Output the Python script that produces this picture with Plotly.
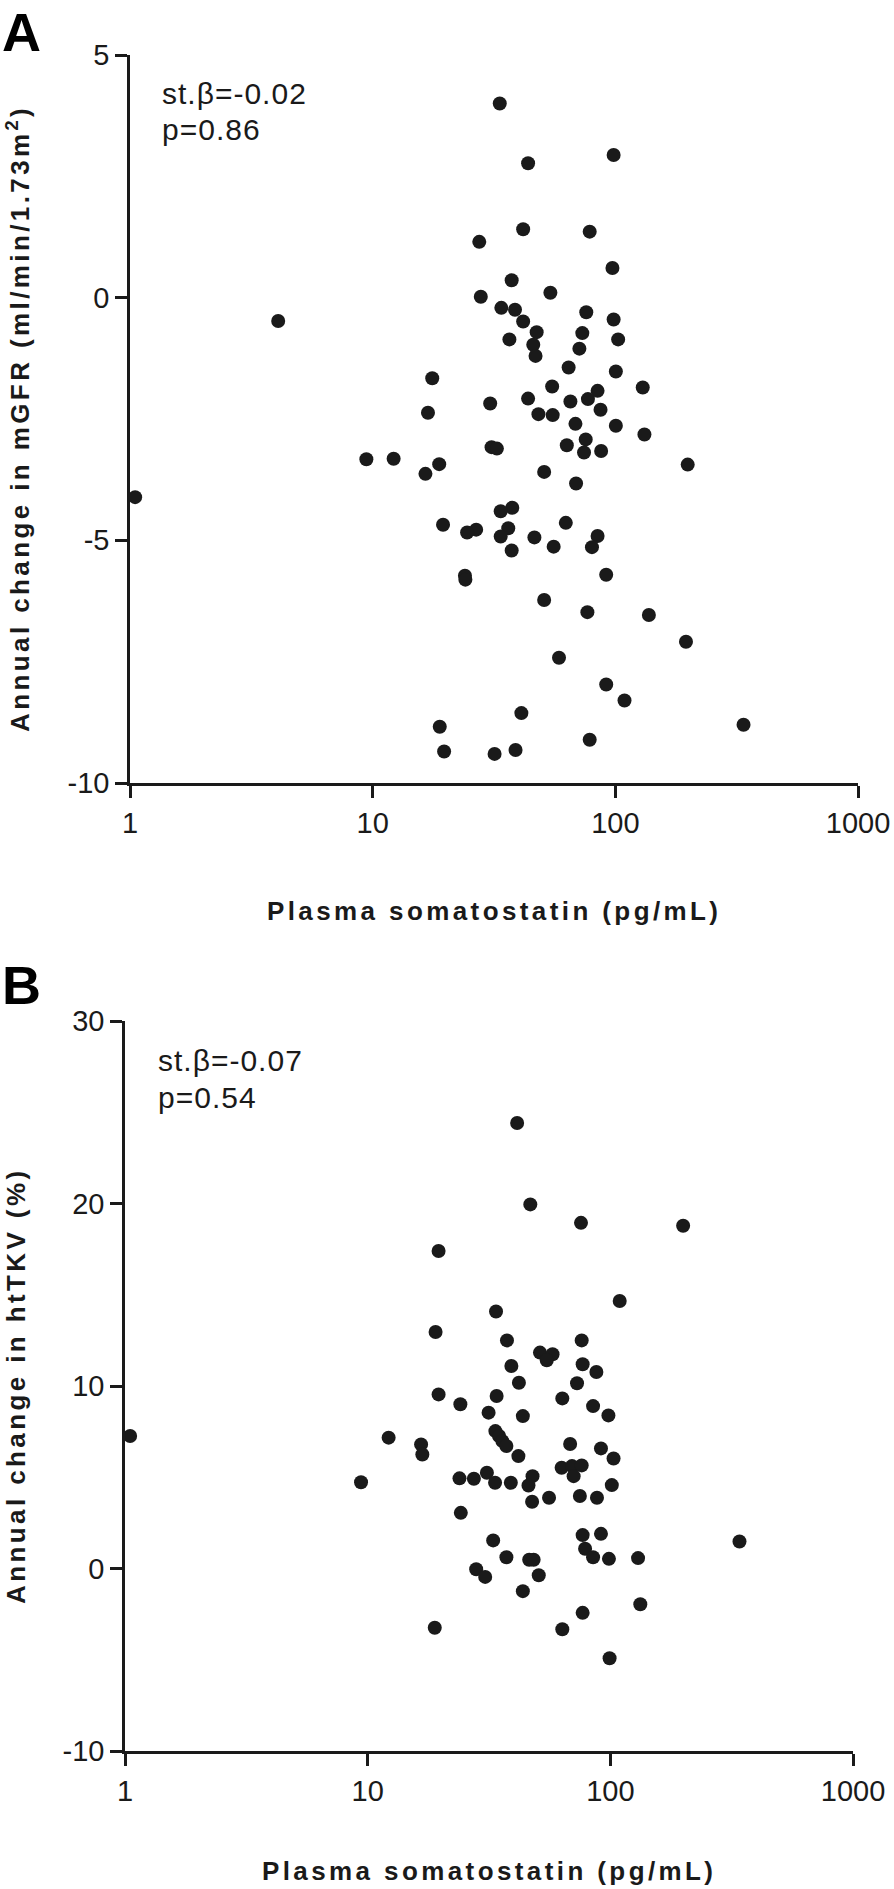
import plotly.graph_objects as go

W, H = 894, 1889

# Panel A: plasma somatostatin (pg/mL) vs annual change in mGFR
a_x = [33.4, 43.7, 98.4, 41.7, 78.4, 27.5, 97.3, 37.4, 54.0, 27.9,
       4.08, 33.9, 38.6, 75.9, 98.4, 41.7, 47.4, 73.1, 36.6, 102.7,
       45.9, 71.1, 46.9, 64.2, 100.5, 17.6, 54.9, 129.7, 84.5, 43.7,
       65.3, 77.1, 30.5, 16.9, 86.9, 48.2, 55.2, 68.5, 100.5, 131.8,
       75.5, 30.9, 32.5, 63.1, 74.3, 87.4, 9.42, 12.2, 18.8, 198.7,
       16.5, 50.9, 68.9, 1.05, 37.6, 33.7, 62.5, 19.5, 26.7, 24.5,
       36.2, 33.7, 46.4, 84.5, 55.7, 80.1, 37.4, 24.0, 24.1, 91.7,
       50.9, 76.7, 137.5, 195.5, 58.6, 91.7, 109.1, 41.0, 18.9, 337.5,
       78.4, 19.7, 31.8, 38.8]
a_y = [4.0, 2.77, 2.94, 1.41, 1.36, 1.15, 0.61, 0.36, 0.10, 0.02,
       -0.48, -0.21, -0.25, -0.30, -0.45, -0.49, -0.71, -0.73, -0.86, -0.86,
       -0.97, -1.05, -1.20, -1.44, -1.52, -1.66, -1.83, -1.85, -1.92, -2.08,
       -2.14, -2.09, -2.18, -2.37, -2.31, -2.40, -2.42, -2.60, -2.64, -2.82,
       -2.92, -3.08, -3.11, -3.04, -3.19, -3.16, -3.33, -3.32, -3.43, -3.44,
       -3.63, -3.59, -3.83, -4.11, -4.33, -4.40, -4.64, -4.68, -4.78, -4.84,
       -4.75, -4.92, -4.94, -4.91, -5.13, -5.14, -5.21, -5.73, -5.81, -5.71,
       -6.23, -6.48, -6.54, -7.09, -7.42, -7.97, -8.30, -8.56, -8.84, -8.80,
       -9.11, -9.35, -9.40, -9.32]

# Panel B: plasma somatostatin (pg/mL) vs annual change in htTKV (%)
b_x = [41.3, 46.8, 75.7, 199.5, 19.6,
       109.3, 33.8, 19.05, 37.5, 76.2, 51.3, 57.8, 54.7, 39.1, 76.9,
       87.6, 42.0, 72.9, 19.6, 34.0, 63.4, 24.1, 84.9, 31.5, 43.6,
       98.2, 1.05, 12.2, 33.6, 34.8, 35.9, 37.3, 16.6, 16.8, 68.3,
       91.5, 103.1, 41.8, 63.0, 69.5, 76.2, 70.6, 31.0, 47.8, 9.39,
       23.9, 27.4, 33.5, 38.9, 46.0, 101.4, 74.9, 55.9, 88.1, 47.6,
       24.2, 76.9, 91.5, 32.9, 340.6, 78.7, 37.3, 46.3, 48.3, 84.9,
       98.7, 130.1, 28.0, 30.5, 50.7, 43.6,
       132.9, 76.9, 18.9, 63.4, 99.3]
b_y = [24.41, 19.95, 18.94, 18.78, 17.40,
       14.66, 14.08, 12.96, 12.50, 12.50, 11.83, 11.74, 11.41, 11.10, 11.19,
       10.77, 10.18, 10.15, 9.54, 9.45, 9.32, 9.00, 8.90, 8.54, 8.35,
       8.39, 7.26, 7.17, 7.53, 7.26, 6.98, 6.71, 6.80, 6.25, 6.82,
       6.58, 6.03, 6.16, 5.52, 5.61, 5.65, 5.06, 5.25, 5.06, 4.73,
       4.94, 4.92, 4.70, 4.70, 4.55, 4.57, 3.97, 3.88, 3.88, 3.66,
       3.05, 1.83, 1.90, 1.54, 1.48, 1.08, 0.62, 0.48, 0.48, 0.62,
       0.53, 0.57, -0.04, -0.46, -0.37, -1.24,
       -1.96, -2.43, -3.25, -3.33, -4.92]

x_tickvals = [1, 10, 100, 1000]
x_ticktext = ["1", "10", "100", "1000"]
a_yticks = [-10, -5, 0, 5]
a_yticktext = ["-10", "-5", "0", "5"]
b_yticks = [-10, 0, 10, 20, 30]
b_yticktext = ["-10", "0", "10", "20", "30"]

x_title = "Plasma somatostatin (pg/mL)"
a_title = "Annual change in mGFR (ml/min/1.73m<sup>2</sup>)"
b_title = "Annual change in htTKV (%)"
a_stats = ["st.\u03b2=-0.02", "p=0.86"]
b_stats = ["st.\u03b2=-0.07", "p=0.54"]

INK = "#1a1a1a"
FONT = "Liberation Sans, Arial, sans-serif"


def fx(p):
    return p / W


def fy(p):
    return 1 - p / H


fig = go.Figure()
fig.add_trace(go.Scatter(x=a_x, y=a_y, mode="markers", xaxis="x", yaxis="y",
                         marker=dict(size=14, color=INK), cliponaxis=False,
                         hoverinfo="skip"))
fig.add_trace(go.Scatter(x=b_x, y=b_y, mode="markers", xaxis="x2", yaxis="y2",
                         marker=dict(size=14, color=INK), cliponaxis=False,
                         hoverinfo="skip"))

common = dict(showline=True, linecolor=INK, linewidth=2.5, ticks="outside",
              ticklen=12, tickwidth=2.5, tickcolor=INK, showgrid=False,
              zeroline=False, automargin=False,
              tickfont=dict(family=FONT, size=29, color=INK))

fig.update_layout(
    width=W, height=H,
    margin=dict(l=0, r=0, t=0, b=0, pad=0, autoexpand=False),
    plot_bgcolor="white", paper_bgcolor="white", showlegend=False,
    xaxis=dict(type="log", range=[0, 3], domain=[fx(130), fx(858)], anchor="y",
               tickvals=x_tickvals, ticktext=x_ticktext, **common),
    yaxis=dict(range=[-10, 5], domain=[fy(783), fy(55)], anchor="x",
               tickvals=a_yticks, ticktext=a_yticktext, **common),
    xaxis2=dict(type="log", range=[0, 3], domain=[fx(125), fx(853)], anchor="y2",
                tickvals=x_tickvals, ticktext=x_ticktext, **common),
    yaxis2=dict(range=[-10, 30], domain=[fy(1751), fy(1021)], anchor="x2",
                tickvals=b_yticks, ticktext=b_yticktext, **common),
)


def spaced(t, sp):
    return '<span style="letter-spacing:%s">%s</span>' % (sp, t)


anns = []
bold = dict(family=FONT, size=26, color=INK, weight="bold")
anns.append(dict(text=spaced(a_title, "3.4px"), textangle=-90, x=fx(19), y=fy(419),
                 xanchor="center", yanchor="middle", font=bold))
anns.append(dict(text=spaced(b_title, "3.4px"), textangle=-90, x=fx(16), y=fy(1386),
                 xanchor="center", yanchor="middle", font=bold))
anns.append(dict(text=spaced(x_title, "3.4px"), x=fx(494), y=fy(911),
                 xanchor="center", yanchor="middle", font=bold))
anns.append(dict(text=spaced(x_title, "3.4px"), x=fx(489), y=fy(1871),
                 xanchor="center", yanchor="middle", font=bold))
big = dict(family=FONT, size=54, color="black", weight="bold")
anns.append(dict(text="A", x=fx(0), y=fy(0), xanchor="left", yanchor="top", font=big))
anns.append(dict(text="B", x=fx(0), y=fy(953), xanchor="left", yanchor="top", font=big))
stat_font = dict(family=FONT, size=30, color=INK)
for t, yy in zip(a_stats, [94, 130]):
    anns.append(dict(text=spaced(t, "1px"), x=fx(160), y=fy(yy), xanchor="left",
                     yanchor="middle", font=stat_font))
for t, yy in zip(b_stats, [1060, 1097]):
    anns.append(dict(text=spaced(t, "1px"), x=fx(156), y=fy(yy), xanchor="left",
                     yanchor="middle", font=stat_font))

for a in anns:
    a.update(xref="paper", yref="paper", showarrow=False)
fig.update_layout(annotations=anns)

fig.write_html("out.html",
               config={"displayModeBar": False},
               post_script="document.body.style.margin='0px';"
                           "document.body.style.overflow='hidden';")
